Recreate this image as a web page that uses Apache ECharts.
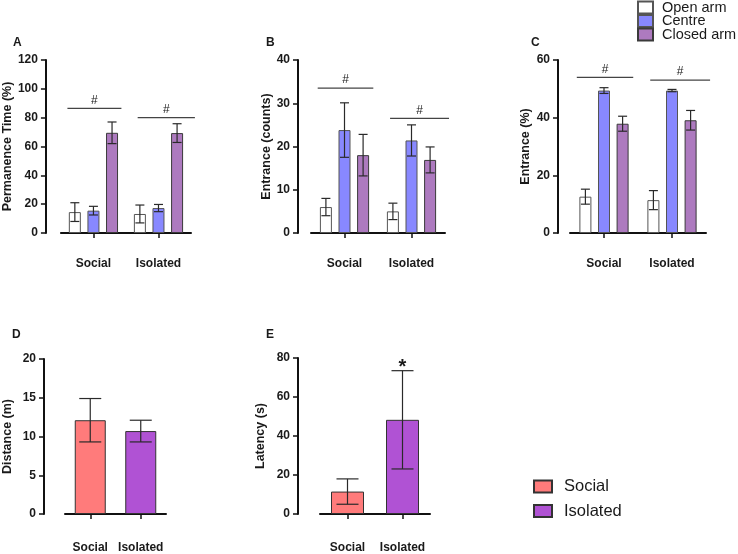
<!DOCTYPE html>
<html>
<head>
<meta charset="utf-8">
<script src="https://cdn.jsdelivr.net/npm/echarts@6/dist/echarts.min.js"></script>
<style>html,body{margin:0;padding:0;background:#fff}#c{width:738px;height:554px}</style>
</head>
<body>
<div id="c"></div>
<script>
// ---------- DATA ----------
const groups = ['Social', 'Isolated'];
const armNames = ['Open arm', 'Centre', 'Closed arm'];
const groupNames = ['Social', 'Isolated'];
const panelLetters = ['A', 'B', 'C', 'D', 'E'];
const yNames = ['Permanence Time (%)', 'Entrance (counts)', 'Entrance (%)', 'Distance (m)', 'Latency (s)'];

// Panel A: permanence time (%)
const permOpen = [14.5, 13.2];
const permCentre = [15.5, 17.3];
const permClosed = [69.5, 69.3];
const permOpenErr = [6.5, 6.2];
const permCentreErr = [3.0, 2.5];
const permClosedErr = [7.5, 6.5];
const permSig = [86.5, 80];

// Panel B: entrance (counts)
const cntOpen = [6.0, 5.0];
const cntCentre = [23.8, 21.4];
const cntClosed = [18.0, 16.9];
const cntOpenErr = [2.0, 1.9];
const cntCentreErr = [6.3, 3.6];
const cntClosedErr = [4.8, 3.0];
const cntSig = [33.5, 26.5];

// Panel C: entrance (%)
const pctOpen = [12.6, 11.4];
const pctCentre = [49.4, 49.4];
const pctClosed = [37.9, 39.1];
const pctOpenErr = [2.6, 3.3];
const pctCentreErr = [1.0, 0.4];
const pctClosedErr = [2.6, 3.4];
const pctSig = [54, 53];

// Panel D: distance (m)
const distance = [12.1, 10.7];
const distanceErr = [2.8, 1.4];

// Panel E: latency (s)
const latency = [11.5, 48.3];
const latencyErr = [6.5, 25.2];
const latencySig = ['', '*'];

// Axis scales
const yMax = [120, 40, 60, 20, 80];
const yStep = [20, 10, 20, 5, 20];

// ---------- STYLE ----------
const FONT = '"Liberation Sans", Arial, Helvetica, sans-serif';
const TXT = '#1a1a1a';
const armColors = ['#ffffff', '#8888ff', '#ad7abf'];
const armBorders = ['#555555', '#555555', '#3a3a3a'];
const grpColors = ['#ff7b7b', '#b052d4'];
const grids = [
  {left: 57, top: 60, width: 134, height: 173},
  {left: 311, top: 60, width: 134, height: 173},
  {left: 570, top: 60, width: 136, height: 173},
  {left: 64, top: 359, width: 102, height: 156},
  {left: 320, top: 358, width: 110, height: 157}
];
const yOffsets = [15, 13, 12, 21, 22];
const nameGaps = [28, 25, 26, 30, 31];
const xOffsets = [15, 15, 15, 17, 17];
const xMargins = [10, 10, 10, 11, 11];
const titlePos = [[13, 37], [266, 37], [531, 37], [12, 329], [266, 329]];
const PITCH = 18.6;       // distance between bar centres inside a group
const sigSpan = [[-0.40, 0.43], [-0.32, 0.56]];

const chart = echarts.init(document.getElementById('c'), null, {renderer: 'canvas'});

function xAxisCfg(i) {
  return {
    type: 'category', gridIndex: i, data: groups, offset: xOffsets[i],
    axisLine: {show: true, lineStyle: {color: '#111', width: 2}},
    axisTick: {show: true, alignWithLabel: true, length: 5, lineStyle: {color: '#111', width: 1.5}},
    axisLabel: {color: TXT, fontFamily: FONT, fontWeight: 'bold', fontSize: 12, margin: xMargins[i], interval: 0},
    splitLine: {show: false}
  };
}
function yAxisCfg(i) {
  return {
    type: 'value', gridIndex: i, min: 0, max: yMax[i], interval: yStep[i], offset: yOffsets[i],
    name: yNames[i], nameLocation: 'middle', nameGap: nameGaps[i],
    nameTextStyle: {color: TXT, fontFamily: FONT, fontWeight: 'bold', fontSize: 12.5},
    axisLine: {show: true, lineStyle: {color: '#111', width: 2}},
    axisTick: {show: true, length: 5, lineStyle: {color: '#111', width: 1.5}},
    axisLabel: {color: TXT, fontFamily: FONT, fontWeight: 'bold', fontSize: 12, margin: 8},
    splitLine: {show: false}
  };
}

function errRender(offsetIdx, capHalf) {
  return function (params, api) {
    const cat = api.value(0), v = api.value(1), e = api.value(2);
    const top = api.coord([cat, v + e]);
    const bot = api.coord([cat, v - e]);
    const x = top[0] + offsetIdx * PITCH;
    const st = {stroke: '#2a2a2a', lineWidth: 1.2};
    return {type: 'group', children: [
      {type: 'line', shape: {x1: x, y1: top[1], x2: x, y2: bot[1]}, style: st},
      {type: 'line', shape: {x1: x - capHalf, y1: top[1], x2: x + capHalf, y2: top[1]}, style: st},
      {type: 'line', shape: {x1: x - capHalf, y1: bot[1], x2: x + capHalf, y2: bot[1]}, style: st}
    ]};
  };
}
function errSeries(i, values, errs, offsetIdx, capHalf) {
  return {
    type: 'custom', xAxisIndex: i, yAxisIndex: i, z: 10, silent: true,
    renderItem: errRender(offsetIdx, capHalf),
    encode: {x: 0, y: 1},
    data: values.map((v, k) => [k, v, errs[k]])
  };
}
function sigSeries(i, heights) {
  return {
    type: 'custom', xAxisIndex: i, yAxisIndex: i, z: 10, silent: true,
    encode: {x: 0, y: 1},
    renderItem: function (params, api) {
      const cat = api.value(0), h = api.value(1);
      const p = api.coord([cat, h]);
      const band = api.size([1, 0])[0];
      const sp = sigSpan[cat];
      const x1 = p[0] + sp[0] * band, x2 = p[0] + sp[1] * band;
      return {type: 'group', children: [
        {type: 'line', shape: {x1: x1, y1: p[1], x2: x2, y2: p[1]}, style: {stroke: '#444', lineWidth: 1.2}},
        {type: 'text', style: {x: (x1 + x2) / 2, y: p[1] - 2, text: '#', fill: TXT, font: '12px ' + FONT, textAlign: 'center', textVerticalAlign: 'bottom'}}
      ]};
    },
    data: heights.map((h, k) => [k, h])
  };
}
function starSeries(i, values, errs, marks) {
  return {
    type: 'custom', xAxisIndex: i, yAxisIndex: i, z: 11, silent: true,
    encode: {x: 0, y: 1},
    renderItem: function (params, api) {
      const idx = params.dataIndex;
      const p = api.coord([api.value(0), api.value(1)]);
      return {type: 'text', style: {x: p[0], y: p[1] - 3, text: marks[idx], fill: TXT, font: 'bold 20px ' + FONT, textAlign: 'center', textVerticalAlign: 'middle'}};
    },
    data: values.map((v, k) => [k, v + errs[k]])
  };
}

const armPanels = [
  {vals: [permOpen, permCentre, permClosed], errs: [permOpenErr, permCentreErr, permClosedErr], sig: permSig},
  {vals: [cntOpen, cntCentre, cntClosed], errs: [cntOpenErr, cntCentreErr, cntClosedErr], sig: cntSig},
  {vals: [pctOpen, pctCentre, pctClosed], errs: [pctOpenErr, pctCentreErr, pctClosedErr], sig: pctSig}
];

const series = [];
armPanels.forEach((p, i) => {
  armNames.forEach((nm, a) => {
    series.push({
      type: 'bar', name: nm, xAxisIndex: i, yAxisIndex: i, data: p.vals[a],
      barWidth: 12, barGap: '55%',
      itemStyle: {color: armColors[a], borderColor: armBorders[a], borderWidth: 1},
      emphasis: {disabled: true}
    });
  });
  armNames.forEach((nm, a) => series.push(errSeries(i, p.vals[a], p.errs[a], a - 1, 4.5)));
  series.push(sigSeries(i, p.sig));
});

const twoPanels = [
  {i: 3, vals: distance, errs: distanceErr, bw: 31},
  {i: 4, vals: latency, errs: latencyErr, bw: 33}
];
twoPanels.forEach(p => {
  groupNames.forEach((nm, g) => {
    series.push({
      type: 'bar', name: nm, xAxisIndex: p.i, yAxisIndex: p.i,
      data: p.vals.map((v, k) => (k === g ? v : '-')),
      barWidth: p.bw, barGap: '-100%',
      itemStyle: {color: grpColors[g], borderColor: '#333', borderWidth: 1},
      emphasis: {disabled: true}
    });
  });
  series.push(errSeries(p.i, p.vals, p.errs, 0, 11));
});
series.push(starSeries(4, latency, latencyErr, latencySig));

const option = {
  backgroundColor: '#fff',
  animation: false,
  title: panelLetters.map((t, i) => ({
    text: t, left: titlePos[i][0], top: titlePos[i][1], padding: 0,
    textStyle: {fontFamily: FONT, fontWeight: 'bold', fontSize: 12, color: TXT}
  })),
  legend: [
    {
      data: armNames, orient: 'vertical', left: 637, top: 0, padding: 0,
      itemWidth: 15, itemHeight: 12, itemGap: -1.5, icon: 'rect', selectedMode: false,
      textStyle: {fontFamily: FONT, fontSize: 14.5, color: TXT, padding: [0, 0, 0, 4]}
    },
    {
      data: groupNames, orient: 'vertical', left: 533, top: 478, padding: 0,
      itemWidth: 18, itemHeight: 12, itemGap: 7.5, icon: 'rect', selectedMode: false,
      textStyle: {fontFamily: FONT, fontSize: 16.5, color: TXT, padding: [0, 0, 0, 7]}
    }
  ],
  grid: grids,
  xAxis: grids.map((g, i) => xAxisCfg(i)),
  yAxis: grids.map((g, i) => yAxisCfg(i)),
  series: series
};
chart.setOption(option);
</script>
</body>
</html>
